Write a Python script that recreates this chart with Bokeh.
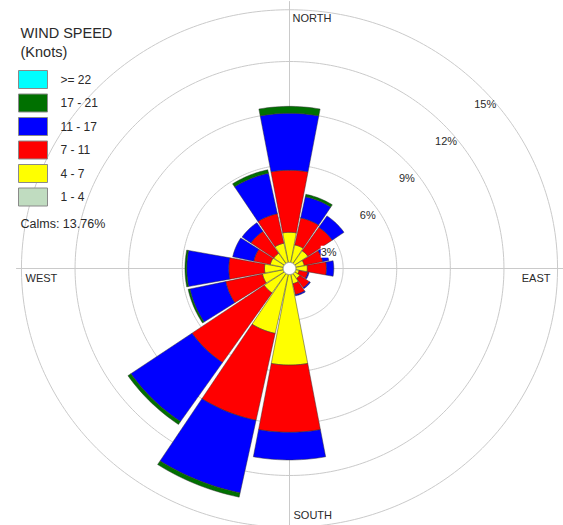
import numpy as np
from bokeh.plotting import figure
from bokeh.models import Label, Range1d, ColumnDataSource
from bokeh.embed import file_html
from bokeh.resources import INLINE

# ---------------- data ----------------
directions = ["N", "NNE", "NE", "ENE", "E", "ESE", "SE", "SSE",
              "S", "SSW", "SW", "WSW", "W", "WNW", "NW", "NNW"]
speed_classes = ["1 - 4", "4 - 7", "7 - 11", "11 - 17", "17 - 21", ">= 22"]
class_colors = ["#C0DCC0", "#FFFF00", "#FF0000", "#0000FF", "#007000", "#00FFFF"]

# frequency (%) per direction for each wind speed class
freq_1_4 = [0.0] * 16
freq_4_7 = [1.75, 1.05, 0.90, 0.50, 0.65, 0.20, 0.35, 0.55,
            5.25, 3.50, 1.37, 1.20, 1.05, 0.75, 0.72, 1.15]
freq_7_11 = [3.60, 1.60, 1.65, 1.05, 1.07, 0.50, 0.65, 0.65,
             3.90, 5.15, 4.90, 2.10, 2.00, 0.95, 1.55, 1.75]
freq_11_17 = [3.30, 1.25, 0.80, 0.35, 0.41, 0.07, 0.07, 0.07,
              1.60, 4.30, 4.15, 2.05, 2.35, 1.20, 0.60, 2.40]
freq_17_21 = [0.40, 0.15, 0.00, 0.00, 0.00, 0.00, 0.00, 0.00,
              0.00, 0.25, 0.20, 0.10, 0.10, 0.00, 0.00, 0.20]
freq_22 = [0.0] * 16
calms = 13.76

ring_values = [3, 6, 9, 12, 15]
ring_labels = ["3%", "6%", "9%", "12%", "15%"]

# ---------------- geometry ----------------
W, H = 563, 525
SX, SY = 17.87, 17.25          # px per percent (horizontal / vertical)
CX, CY = 289, 268              # centre of rose in canvas px
R0 = 0.35                      # radius of calm circle (in %)
HALF = np.radians(10.5)        # half angular width of a wedge


def px(X, Y):
    """image pixel -> data coordinates"""
    return ((X - CX) / SX, (CY - Y) / SY)


p = figure(width=W, height=H, output_backend="svg", toolbar_location=None,
           x_range=Range1d(-CX / SX, (W - CX) / SX),
           y_range=Range1d(-(H - CY) / SY, CY / SY),
           min_border=0, min_border_left=0, min_border_right=0,
           min_border_top=0, min_border_bottom=0)
p.axis.visible = False
p.grid.visible = False
p.outline_line_color = None
p.background_fill_color = "white"
p.border_fill_color = "white"

# rings
t = np.linspace(0, 2 * np.pi, 361)
p.multi_line([list(v * np.sin(t)) for v in ring_values],
             [list(v * np.cos(t)) for v in ring_values],
             line_color="#CACACA", line_width=1)
# cross lines
p.segment(x0=[-15.3, 0], y0=[0, -15.5], x1=[15.5, 0], y1=[0, 15.5],
          line_color="#CACACA", line_width=1)

# wedges
series = [freq_1_4, freq_4_7, freq_7_11, freq_11_17, freq_17_21, freq_22]
xs, ys, cols = [], [], []
for i, d in enumerate(directions):
    theta = np.radians(i * 22.5)
    a = np.linspace(theta - HALF, theta + HALF, 16)
    r_in = R0
    for k, s in enumerate(series):
        v = s[i]
        if v <= 0:
            continue
        r_out = r_in + v
        px_ = list(r_out * np.sin(a)) + list(r_in * np.sin(a[::-1]))
        py_ = list(r_out * np.cos(a)) + list(r_in * np.cos(a[::-1]))
        xs.append(px_)
        ys.append(py_)
        cols.append(class_colors[k])
        r_in = r_out
src = ColumnDataSource(dict(xs=xs, ys=ys, color=cols))
p.patches("xs", "ys", source=src, fill_color="color",
          line_color="#303030", line_width=0.6, line_alpha=0.8)

# calm circle
p.patch(list(R0 * np.sin(t)), list(R0 * np.cos(t)), fill_color="white",
        line_color="#9A9A9A", line_width=1)

FONT = "Liberation Sans"
TXT = "#2A2A2A"

# ring labels
for v, lab in zip(ring_values, ring_labels):
    p.add_layout(Label(x=0.73 * v, y=0.715 * v - 1.17,
                       text=lab, text_font=FONT, text_font_size="11px",
                       text_color=TXT, text_align="center",
                       text_baseline="middle",
                       background_fill_color="white",
                       background_fill_alpha=1.0 if v == 3 else 0.0))

# compass labels
for lab, X, Y, al in [("NORTH", 292, 17.5, "left"), ("SOUTH", 293, 514, "left"),
                      ("WEST", 25, 277.5, "left"), ("EAST", 550, 277.5, "right")]:
    x, y = px(X, Y)
    p.add_layout(Label(x=x, y=y, text=lab, text_font=FONT,
                       text_font_size="11px", text_color=TXT,
                       text_align=al, text_baseline="middle"))

# legend
x, y = px(20, 32.5)
p.add_layout(Label(x=x, y=y, text="WIND SPEED", text_font=FONT,
                   text_font_size="14.5px", text_color=TXT,
                   text_baseline="middle"))
x, y = px(20, 51)
p.add_layout(Label(x=x, y=y, text="(Knots)", text_font=FONT,
                   text_font_size="14.5px", text_color=TXT,
                   text_baseline="middle"))

leg_labels = speed_classes[::-1]
leg_colors = class_colors[::-1]
lefts, rights, tops, bottoms = [], [], [], []
for j in range(len(leg_labels)):
    top = 70 + j * 23.5
    xl, yt = px(18, top)
    xr, yb = px(47, top + 18)
    lefts.append(xl); rights.append(xr); tops.append(yt); bottoms.append(yb)
    xt, ym = px(60, top + 9)
    p.add_layout(Label(x=xt, y=ym, text=leg_labels[j], text_font=FONT,
                       text_font_size="12px", text_color=TXT,
                       text_baseline="middle"))
p.quad(left=lefts, right=rights, top=tops, bottom=bottoms,
       fill_color=leg_colors, line_color="#8A8A8A", line_width=1)

x, y = px(20, 223)
p.add_layout(Label(x=x, y=y, text=f"Calms: {calms:.2f}%", text_font=FONT,
                   text_font_size="12.5px", text_color=TXT,
                   text_baseline="middle"))

open("out.html", "w").write(file_html(p, INLINE))
